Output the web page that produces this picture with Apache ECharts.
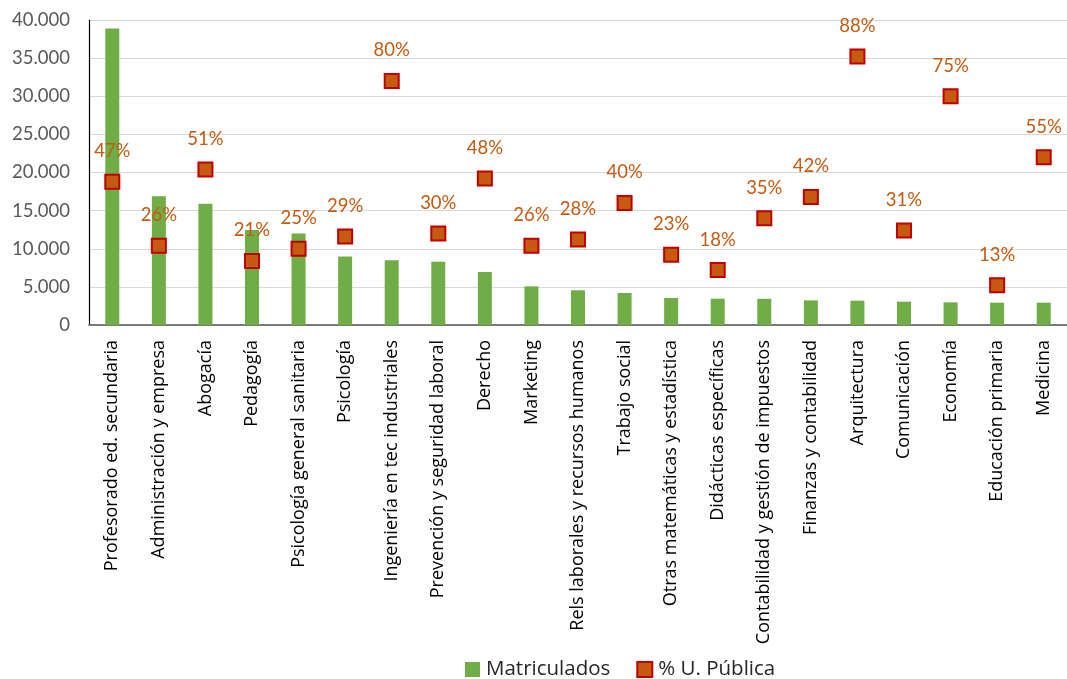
<!DOCTYPE html>
<html>
<head>
<meta charset="utf-8">
<script src="https://cdn.jsdelivr.net/npm/echarts@6/dist/echarts.min.js"></script>
<style>
html,body{margin:0;padding:0;background:#fff;}
#c{width:1067px;height:679px;}
</style>
</head>
<body>
<div id="c"></div>
<script>
const categories = [
  "Profesorado ed. secundaria", "Administración y empresa", "Abogacía", "Pedagogía",
  "Psicología general sanitaria", "Psicología", "Ingeniería en tec industriales",
  "Prevención y seguridad laboral", "Derecho", "Marketing", "Rels laborales y recursos humanos",
  "Trabajo social", "Otras matemáticas y estadística", "Didácticas específicas",
  "Contabilidad y gestión de impuestos", "Finanzas y contabilidad", "Arquitectura",
  "Comunicación", "Economía", "Educación primaria", "Medicina"
];
const matriculados = [38900, 16900, 15900, 12450, 12000, 9000, 8480, 8300, 6950, 5070, 4550, 4200, 3540, 3450, 3440, 3230, 3190, 3060, 2970, 2930, 2930];
const pctPublica = [0.47, 0.26, 0.51, 0.21, 0.25, 0.29, 0.80, 0.30, 0.48, 0.26, 0.28, 0.40, 0.23, 0.18, 0.35, 0.42, 0.88, 0.31, 0.75, 0.13, 0.55];
const yTicks = [0, 5000, 10000, 15000, 20000, 25000, 30000, 35000, 40000];

const font = "Lato";
const font2 = "Open Sans";
const chart = echarts.init(document.getElementById('c'));
chart.setOption({
  animation: false,
  textStyle: { fontFamily: font },
  grid: { left: 89, right: 0, top: 20, bottom: 354, containLabel: false },
  legend: {
    top: 654, left: 460, itemWidth: 15, itemHeight: 15, itemGap: 26,
    textStyle: { fontFamily: font2, fontSize: 20.5, color: '#262626', padding: [0, 0, 0, 1] },
    data: [
      { name: 'Matriculados', icon: 'rect' },
      { name: '% U. Pública', icon: 'rect' }
    ]
  },
  xAxis: [
    {
      type: 'category', data: categories, position: 'bottom',
      axisLine: { show: true, lineStyle: { color: '#D9D9D9', width: 1.5 } },
      axisTick: { show: false },
      axisLabel: { rotate: 90, interval: 0, margin: 15, fontSize: 18, color: '#000', fontFamily: font2 }
    },
    {
      type: 'category', data: categories, position: 'top',
      axisLine: { show: true, lineStyle: { color: '#595959', width: 1.5 } },
      axisTick: { show: false }, axisLabel: { show: false }
    }
  ],
  yAxis: [
    {
      type: 'value', min: 0, max: 40000, interval: 5000,
      axisLine: { show: true, lineStyle: { color: '#000', width: 1.2 } },
      axisTick: { show: false },
      splitLine: { lineStyle: { color: '#D9D9D9', width: 1 } },
      axisLabel: {
        margin: 19, fontSize: 18.5, color: '#595959', fontFamily: font,
        formatter: v => yTicks.includes(v) ? (v === 0 ? '0' : (v / 1000).toFixed(0) + '.000') : ''
      }
    },
    { type: 'value', min: 0, max: 1, show: false, splitLine: { show: false } }
  ],
  series: [
    {
      name: 'Matriculados', type: 'bar', data: matriculados, barWidth: 14,
      itemStyle: { color: '#70AD47' }
    },
    {
      name: '% U. Pública', type: 'scatter', yAxisIndex: 1, data: pctPublica,
      symbol: 'rect', symbolSize: 14,
      itemStyle: { color: '#C55A11', borderColor: '#C00000', borderWidth: 2, opacity: 1 },
      label: {
        show: true, position: 'top', distance: 13, fontSize: 18.5, color: '#C55A11', fontFamily: font,
        formatter: p => Math.round(p.value * 100) + '%'
      },
      z: 5
    }
  ]
});
</script>
</body>
</html>
